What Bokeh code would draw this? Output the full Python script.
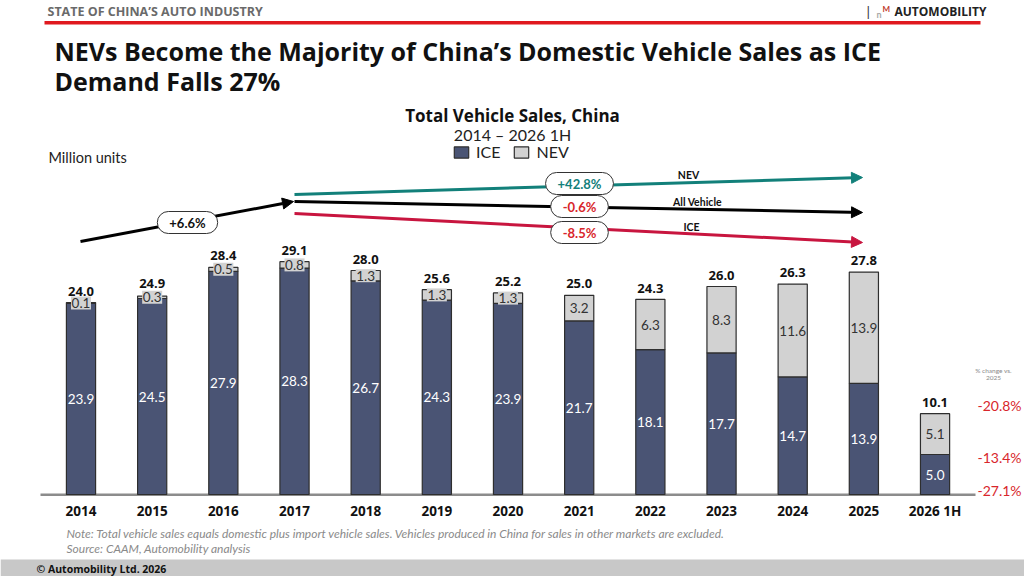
import numpy as np
from bokeh.plotting import figure
from bokeh.models import ColumnDataSource, Range1d, Label, Arrow, NormalHead, BoxAnnotation
from bokeh.core.properties import value
from bokeh.embed import file_html
from bokeh.resources import INLINE

# ---------------- data ----------------
years = ["2014", "2015", "2016", "2017", "2018", "2019", "2020",
         "2021", "2022", "2023", "2024", "2025", "2026 1H"]
ice = [23.9, 24.5, 27.9, 28.3, 26.7, 24.3, 23.9, 21.7, 18.1, 17.7, 14.7, 13.9, 5.0]
nev = [0.1, 0.3, 0.5, 0.8, 1.3, 1.3, 1.3, 3.2, 6.3, 8.3, 11.6, 13.9, 5.1]
total = [24.0, 24.9, 28.4, 29.1, 28.0, 25.6, 25.2, 25.0, 24.3, 26.0, 26.3, 27.8, 10.1]
change_vs_2025 = ["-20.8%", "-13.4%", "-27.1%"]
cagr_2014_2017 = "+6.6%"
cagr_nev = "+42.8%"
cagr_all = "-0.6%"
cagr_ice = "-8.5%"

# ---------------- layout helpers ----------------
W, H = 1024, 576
FONT = "Lato"
FONT_B = "Open Sans"


def X(rx):
    return rx


def Y(ry):
    return H - ry


CAT_PX = 71.17
FIRST_CX = X(80.5)
PX_PER_UNIT = 8.0
BASE_CY = 494

ICE_C = "#4a5474"
NEV_C = "#d2d2d2"
TEAL = "#12807a"
CRIMSON = "#c8153f"
RED_TXT = "#d8262b"

p = figure(width=W, height=H, output_backend="svg", toolbar_location=None,
           x_range=Range1d(-FIRST_CX / CAT_PX, (W - FIRST_CX) / CAT_PX),
           y_range=Range1d(-(H - BASE_CY) / PX_PER_UNIT, BASE_CY / PX_PER_UNIT),
           x_axis_type=None, y_axis_type=None, min_border=0, title=None,
           outline_line_color=None, background_fill_color="white",
           border_fill_color="white")
p.min_border_left = p.min_border_right = p.min_border_top = p.min_border_bottom = 0

xs = np.arange(len(years))
ice_a = np.array(ice)
nev_a = np.array(nev)
src = ColumnDataSource(dict(
    x=xs, year=years, ice=ice, nev=nev, total=total,
    ice_mid=ice_a / 2, nev_mid=ice_a + nev_a / 2,
    total_lbl=[f"{t:.1f}" for t in total],
    ice_lbl=[f"{v:.1f}" for v in ice],
    nev_lbl=[f"{v:.1f}" for v in nev],
    zero=[0] * len(years),
))
small = nev_a < 2
small_src = ColumnDataSource(dict(
    x=xs[small], nev_mid=(ice_a + nev_a / 2)[small],
))

# baseline axis line
p.add_layout(BoxAnnotation(left=X(40), right=X(975), top=Y(493), bottom=Y(495.5),
                           left_units="screen", right_units="screen",
                           top_units="screen", bottom_units="screen",
                           fill_color="#8c8c8c", fill_alpha=1, line_color=None, level="underlay"))

p.vbar_stack(["ice", "nev"], x="x", width=0.41, source=src,
             fill_color=[ICE_C, NEV_C], line_color="#2e2e2e", line_width=1.2,
             legend_label=["ICE", "NEV"])

p.rect(x="x", y="nev_mid", width=20, height=13, width_units="screen", height_units="screen",
       source=small_src, fill_color=NEV_C, line_color=None)

p.text(x="x", y="total", text="total_lbl", source=src, text_align="center",
       text_baseline="bottom", y_offset=-7, text_font=value(FONT_B),
       text_font_style="bold", text_font_size="13px", text_color="#111111")
p.text(x="x", y="ice_mid", text="ice_lbl", source=src, text_align="center",
       text_baseline="middle", text_font=value(FONT), text_font_size="13.5px",
       text_color="white")
p.text(x="x", y="nev_mid", text="nev_lbl", source=src, text_align="center",
       text_baseline="middle", text_font=value(FONT), text_font_size="13.5px",
       text_color="#333333")
p.text(x="x", y="zero", text="year", source=src, text_align="center",
       text_baseline="middle", y_offset=16, text_font=value(FONT_B),
       text_font_style="bold", text_font_size="13.5px", text_color="#111111")

# legend
lg = p.legend[0]
lg.location = (X(452), Y(161))
lg.orientation = "horizontal"
lg.glyph_width = 18
lg.glyph_height = 14
lg.label_text_font = FONT
lg.label_text_font_size = "16px"
lg.label_text_color = "#222222"
lg.background_fill_alpha = 0
lg.border_line_alpha = 0
lg.padding = 0
lg.margin = 0
lg.spacing = 12
lg.label_standoff = 6
lg.label_height = 14


def lab(text, rx, ry, size="13px", style="normal", color="#222222", align="left",
        baseline="middle", font=FONT, **kw):
    p.add_layout(Label(x=X(rx), y=Y(ry), x_units="screen", y_units="screen", text=text,
                       text_font=font, text_font_size=size, text_font_style=style,
                       text_color=color, text_align=align, text_baseline=baseline, **kw))


# header
lab("STATE OF CHINA’S AUTO INDUSTRY", 47, 11, size="12.5px", style="bold", color="#6a6a6a",
    font=FONT_B)
lab("|", 866, 11, size="14px", color="#333333")
lab("n", 876, 14, size="9px", style="bold", color="#aaaaaa")
lab("M", 882, 8, size="8px", style="bold", color="#c0392b")
lab("AUTOMOBILITY", 894, 11, size="12px", style="bold", color="#222222", font=FONT_B)
p.add_layout(BoxAnnotation(left=X(44), right=X(980), top=Y(20.5), bottom=Y(24),
                           left_units="screen", right_units="screen",
                           top_units="screen", bottom_units="screen",
                           fill_color="#e0191f", fill_alpha=1, line_color=None))

# titles
lab("NEVs Become the Majority of China’s Domestic Vehicle Sales as ICE", 54, 50,
    size="25px", style="bold", color="#111111", font=FONT_B)
lab("Demand Falls 27%", 54, 80, size="25px", style="bold", color="#111111", font=FONT_B)
lab("Total Vehicle Sales, China", 512, 115, size="17px", style="bold", color="#111111",
    align="center", font=FONT_B)
lab("2014 – 2026 1H", 512, 134, size="16px", color="#222222", align="center")
lab("Million units", 48, 157, size="14.5px", color="#222222")

# growth arrows


def arrow(x0, y0, x1, y1, color):
    p.add_layout(Arrow(end=NormalHead(size=11, fill_color=color, line_color=color),
                       x_start=X(x0), y_start=Y(y0), x_end=X(x1), y_end=Y(y1),
                       start_units="screen", end_units="screen",
                       line_color=color, line_width=3))


arrow(80, 241, 293, 201, "#000000")
arrow(294, 194, 862, 177, TEAL)
arrow(294, 201, 862, 212, "#000000")
arrow(294, 213, 862, 242, CRIMSON)


def pill(text, rx, ry, color):
    lab(text, rx, ry, size="13px", style="bold", color=color, align="center",
        background_fill_color="white", border_line_color="#333333",
        border_line_width=1, padding=(12, 3), border_radius=12)


pill(cagr_2014_2017, 187, 222, "#111111")
pill(cagr_nev, 579, 183, TEAL)
pill(cagr_all, 579, 206, RED_TXT)
pill(cagr_ice, 579, 232, RED_TXT)
lab("NEV", 688, 174, size="10.5px", style="bold", color="#111111", align="center")
lab("All Vehicle", 697, 201, size="10.5px", style="bold", color="#111111", align="center")
lab("ICE", 691, 226, size="10.5px", style="bold", color="#111111", align="center")

# % change vs 2025
lab("% change vs.", 993, 370, size="6.5px", color="#8a8a8a", align="center")
lab("2025", 993, 377, size="6.5px", color="#8a8a8a", align="center")
for t, ry in zip(change_vs_2025, [405, 457, 490]):
    lab(t, 977, ry, size="14px", color=RED_TXT)

# notes and footer
lab("Note: Total vehicle sales equals domestic plus import vehicle sales. Vehicles produced in "
    "China for sales in other markets are excluded.", 66, 533, size="12px", style="italic",
    color="#8a8a8a")
lab("Source: CAAM, Automobility analysis", 66, 548, size="12px", style="italic",
    color="#8a8a8a")
p.add_layout(BoxAnnotation(left=0, right=W, top=Y(559), bottom=0,
                           left_units="screen", right_units="screen",
                           top_units="screen", bottom_units="screen",
                           fill_color="#c8c8c8", fill_alpha=1, line_color=None))
lab("© Automobility Ltd. 2026", 36, 568, size="10.5px", style="bold", color="#111111",
    font=FONT_B)

open("out.html", "w").write(file_html(p, INLINE))
